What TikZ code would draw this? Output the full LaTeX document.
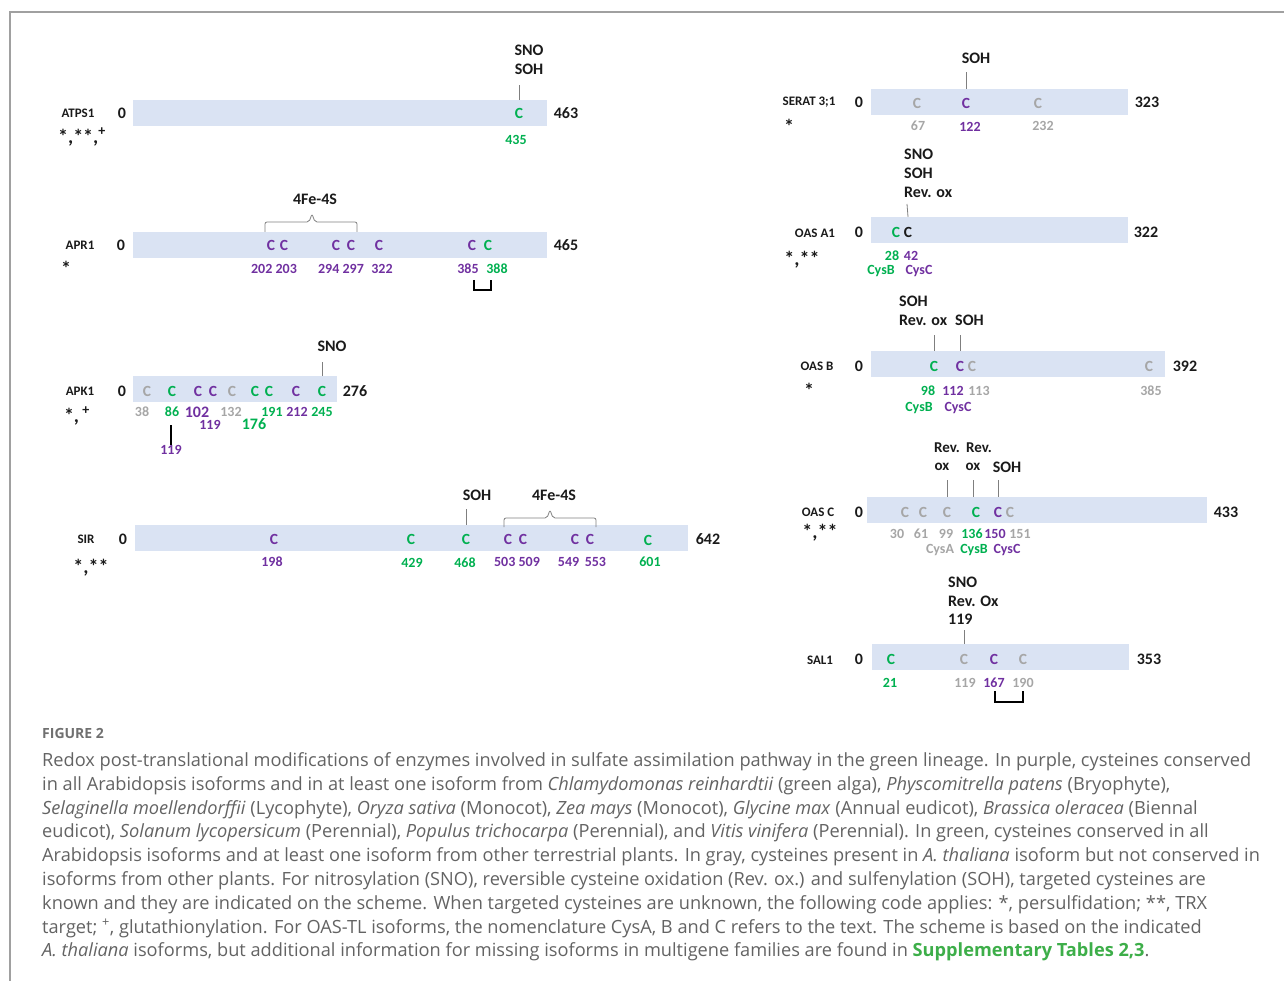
\documentclass[tikz,border=0pt]{standalone}
\usepackage{fontspec}
\setmainfont{Carlito}
\newfontfamily\capfont{Open Sans}
\usetikzlibrary{calc}
\definecolor{barblue}{HTML}{DAE3F3}
\definecolor{cgreen}{HTML}{00B050}
\definecolor{cpurple}{HTML}{7030A0}
\definecolor{cgray}{HTML}{A6A6A6}
\definecolor{capgray}{HTML}{636363}
\definecolor{figgray}{HTML}{707070}
\definecolor{framegray}{HTML}{A0A0A0}
\definecolor{suppgreen}{HTML}{3DAE49}
\definecolor{tickgray}{HTML}{7F7F7F}
\definecolor{txt}{HTML}{1A1A1A}
\begin{document}
\begin{tikzpicture}[x=1pt,y=-1pt,
  bar/.style={fill=barblue,draw=none,inner sep=0pt,minimum height=26pt,anchor=west},
  prot/.style={font=\bfseries\fontsize{13}{15}\selectfont,inner sep=0pt,text=txt},
  endn/.style={font=\bfseries\fontsize{16}{18}\selectfont,inner sep=0pt,text=txt},
  cy/.style={font=\bfseries\fontsize{15.5}{17}\selectfont,inner sep=0pt},
  num/.style={font=\bfseries\fontsize{14}{16}\selectfont,inner sep=0pt},
  ptm/.style={font=\bfseries\fontsize{16}{18}\selectfont,inner sep=0pt,text=txt},
  stars/.style={font=\bfseries\fontsize{20}{22}\selectfont,inner sep=0pt,text=txt},
  tick/.style={draw=tickgray,line width=0.8pt},
  brace/.style={draw=tickgray,line width=0.8pt,rounded corners=2pt},
  bracket/.style={draw=black,line width=2.2pt},
  gr/.style={text=cgreen},
  pu/.style={text=cpurple},
  gy/.style={text=cgray},
  capline/.style={font=\capfont\fontsize{18.2}{22}\selectfont,text=capgray,anchor=base west,inner sep=0pt}
]
\useasboundingbox (0,0) rectangle (1284,981);
% frame
\draw[framegray,line width=1.2pt] (1284,12) -- (10,12) -- (10,981);

% ---------- ATPS1
\node[bar,minimum width=414pt] (b1) at (133,113) {};
\node[prot] (n1) at (78,113) {ATPS1};
\node[endn] (z1) at (122,113) {0};
\node[endn] (e1) at (566,113) {463};
\node[cy,gr] (c1a) at (519,113) {C};
\node[num,gr] (p1a) at (516,140) {435};
\node[ptm] (m1a) at (529,50) {SNO};
\node[ptm] (m1b) at (529,69) {SOH};
\coordinate (t1) at (519,85);
\draw[tick] (c1a |- b1.north) -- (t1);
\node[stars] (s1) at (82,137) {*,**,\textsuperscript{+}};

% ---------- APR1
\node[bar,minimum width=414pt] (b2) at (133,245) {};
\node[prot] (n2) at (80,245) {APR1};
\node[endn] (z2) at (121,245) {0};
\node[endn] (e2) at (566,245) {465};
\node[cy,pu] (c2a) at (271,245) {C};
\node[cy,pu] (c2b) at (284,245) {C};
\node[cy,pu] (c2c) at (336,245) {C};
\node[cy,pu] (c2d) at (351,245) {C};
\node[cy,pu] (c2e) at (379,245) {C};
\node[cy,pu] (c2f) at (472,245) {C};
\node[cy,gr] (c2g) at (488,245) {C};
\node[num,pu] (p2a) at (274,269) {202 203};
\node[num,pu] (p2b) at (341,269) {294 297};
\node[num,pu] (p2c) at (382,269) {322};
\node[num,pu] (p2d) at (468,269) {385};
\node[num,gr] (p2e) at (497,269) {388};
\node[ptm] (fe1) at (315,199) {4Fe-4S};
\draw[brace] (265,232) -- (265,222) -- (309,222) -- (312,214) -- (315,222) -- (357,222) -- (357,232);
\draw[bracket] (474,280) -- (474,290) -- (491,290) -- (491,280);
\node[stars] (s2) at (66,268) {*};

% ---------- APK1
\node[bar,minimum width=204pt] (b3) at (133,389) {};
\node[prot] (n3) at (80,391) {APK1};
\node[endn] (z3) at (122,391) {0};
\node[endn] (e3) at (355,391) {276};
\node[cy,gy] (c3a) at (147,391) {C};
\node[cy,gr] (c3b) at (172,391) {C};
\node[cy,pu] (c3c) at (198,391) {C};
\node[cy,pu] (c3d) at (213,391) {C};
\node[cy,gy] (c3e) at (232,391) {C};
\node[cy,gr] (c3f) at (255,391) {C};
\node[cy,gr] (c3g) at (269,391) {C};
\node[cy,pu] (c3h) at (296,391) {C};
\node[cy,gr] (c3i) at (322,391) {C};
\node[num,gy] (p3a) at (142,412) {38};
\node[num,gr] (p3b) at (172,412) {86};
\node[num,pu,font=\bfseries\fontsize{16}{18}\selectfont] (p3c) at (197,412) {102};
\node[num,gy] (p3d) at (231,412) {132};
\node[num,gr] (p3e) at (272,412) {191};
\node[num,pu] (p3f) at (297,412) {212};
\node[num,gr] (p3g) at (322,412) {245};
\node[num,pu] (p3h) at (210,425) {119};
\node[num,gr,font=\bfseries\fontsize{16}{18}\selectfont] (p3i) at (254,424) {176};
\node[num,pu] (p3j) at (171,450) {119};
\draw[bracket] (p3j |- 0,425) -- (p3j.north);
\node[ptm] (m3a) at (332,346) {SNO};
\coordinate (t3) at (322,362);
\draw[tick] (c3i |- b3.north) -- (t3);
\node[stars] (s3) at (77,416) {*,\,\textsuperscript{+}};

% ---------- SIR
\node[bar,minimum width=553pt] (b4) at (135,538) {};
\node[prot] (n4) at (86,539) {SIR};
\node[endn] (z4) at (123,539) {0};
\node[endn] (e4) at (708,539) {642};
\node[cy,pu] (c4a) at (274,539) {C};
\node[cy,gr] (c4b) at (411,539) {C};
\node[cy,gr] (c4c) at (466,539) {C};
\node[cy,pu] (c4d) at (508,539) {C};
\node[cy,pu] (c4e) at (523,539) {C};
\node[cy,pu] (c4f) at (575,539) {C};
\node[cy,pu] (c4g) at (590,539) {C};
\node[cy,gr] (c4h) at (648,540) {C};
\node[num,pu] (p4a) at (272,562) {198};
\node[num,gr] (p4b) at (412,563) {429};
\node[num,gr] (p4c) at (465,563) {468};
\node[num,pu] (p4d) at (517,562) {503 509};
\node[num,pu] (p4e) at (582,562) {549 \,553};
\node[num,gr] (p4f) at (650,562) {601};
\node[ptm] (m4a) at (477,495) {SOH};
\coordinate (t4) at (466,509);
\draw[tick] (c4c |- b4.north) -- (t4);
\node[ptm] (fe2) at (554,495) {4Fe-4S};
\draw[brace] (504,527) -- (504,518) -- (547,518) -- (550,510) -- (553,518) -- (596,518) -- (596,527);
\node[stars] (s4) at (91,568) {*,**};

% ---------- SERAT 3;1
\node[bar,minimum width=257pt] (b5) at (871,102) {};
\node[prot] (n5) at (809,102) {SERAT 3;1};
\node[endn] (z5) at (859,102) {0};
\node[endn] (e5) at (1147,102) {323};
\node[cy,gy] (c5a) at (917,103) {C};
\node[cy,pu] (c5b) at (966,103) {C};
\node[cy,gy] (c5c) at (1038,103) {C};
\node[num,gy] (p5a) at (918,126) {67};
\node[num,pu] (p5b) at (970,127) {122};
\node[num,gy] (p5c) at (1043,126) {232};
\node[ptm] (m5a) at (976,58) {SOH};
\coordinate (t5) at (966,72);
\draw[tick] (c5b |- b5.north) -- (t5);
\node[stars] (s5) at (789,126) {*};

% ---------- OAS A1
\node[bar,minimum width=257pt] (b6) at (871,230) {};
\node[prot] (n6) at (815,233) {OAS A1};
\node[endn] (z6) at (859,232) {0};
\node[endn] (e6) at (1146,232) {322};
\node[cy,gr] (c6a) at (896,232) {C};
\node[cy,text=txt] (c6b) at (908,232) {C};
\node[num,gr] (p6a) at (892,256) {28};
\node[num,pu] (p6b) at (911,256) {42};
\node[num,gr] (q6a) at (881,271) {CysB};
\node[num,pu] (q6b) at (919,271) {CysC};
\node[ptm,anchor=west] (m6a) at (904,154) {SNO};
\node[ptm,anchor=west] (m6b) at (904,173) {SOH};
\node[ptm,anchor=west] (m6c) at (904,192) {Rev. ox};
\coordinate (t6) at (907,204);
\draw[tick] (c6b |- b6.north) -- (t6);
\node[stars] (s6) at (802,260) {*,**};

% ---------- OAS B
\node[bar,minimum width=294pt] (b7) at (871,364) {};
\node[prot] (n7) at (817,366) {OAS B};
\node[endn] (z7) at (859,366) {0};
\node[endn] (e7) at (1185,366) {392};
\node[cy,gr] (c7a) at (934,366) {C};
\node[cy,pu] (c7b) at (960,366) {C};
\node[cy,gy] (c7c) at (972,366) {C};
\node[cy,gy] (c7d) at (1149,366) {C};
\node[num,gr] (p7a) at (928,391) {98};
\node[num,pu] (p7b) at (953,391) {112};
\node[num,gy] (p7c) at (979,391) {113};
\node[num,gy] (p7d) at (1151,391) {385};
\node[num,gr] (q7a) at (919,408) {CysB};
\node[num,pu] (q7b) at (958,408) {CysC};
\node[ptm,anchor=west] (m7a) at (899,301) {SOH};
\node[ptm,anchor=west] (m7b) at (899,320) {Rev. ox};
\node[ptm,anchor=west] (m7c) at (955,320) {SOH};
\coordinate (t7a) at (934,335);
\coordinate (t7b) at (960,335);
\draw[tick] (c7a |- b7.north) -- (t7a);
\draw[tick] (c7b |- b7.north) -- (t7b);
\node[stars] (s7) at (809,390) {*};

% ---------- OAS C
\node[bar,minimum width=340pt] (b8) at (867,510) {};
\node[prot] (n8) at (818,512) {OAS C};
\node[endn] (z8) at (859,512) {0};
\node[endn] (e8) at (1226,512) {433};
\node[cy,gy] (c8a) at (905,512) {C};
\node[cy,gy] (c8b) at (923,512) {C};
\node[cy,gy] (c8c) at (947,512) {C};
\node[cy,gr] (c8d) at (976,512) {C};
\node[cy,pu] (c8e) at (998,512) {C};
\node[cy,gy] (c8f) at (1010,512) {C};
\node[num,gy] (p8a) at (897,534) {30};
\node[num,gy] (p8b) at (921,534) {61};
\node[num,gy] (p8c) at (946,534) {99};
\node[num,gr] (p8d) at (972,534) {136};
\node[num,pu] (p8e) at (995,534) {150};
\node[num,gy] (p8f) at (1020,534) {151};
\node[num,gy] (q8a) at (940,550) {CysA};
\node[num,gr] (q8b) at (974,550) {CysB};
\node[num,pu] (q8c) at (1007,550) {CysC};
\node[ptm,font=\bfseries\fontsize{15}{17}\selectfont] (m8a) at (947,448) {Rev.};
\node[ptm,font=\bfseries\fontsize{15}{17}\selectfont] (m8b) at (979,448) {Rev.};
\node[ptm,font=\bfseries\fontsize{15}{17}\selectfont] (m8c) at (942,467) {ox};
\node[ptm,font=\bfseries\fontsize{15}{17}\selectfont] (m8d) at (973,467) {ox};
\node[ptm] (m8e) at (1007,467) {SOH};
\coordinate (t8a) at (947,480);
\coordinate (t8b) at (973,480);
\coordinate (t8c) at (998,480);
\draw[tick] (c8c |- b8.north) -- (t8a);
\draw[tick] (t8b |- b8.north) -- (t8b);
\draw[tick] (c8e |- b8.north) -- (t8c);
\node[stars] (s8) at (820,533) {*,**};

% ---------- SAL1
\node[bar,minimum width=257pt] (b9) at (872,657) {};
\node[prot] (n9) at (820,660) {SAL1};
\node[endn] (z9) at (859,659) {0};
\node[endn] (e9) at (1149,659) {353};
\node[cy,gr] (c9a) at (891,659) {C};
\node[cy,gy] (c9b) at (964,659) {C};
\node[cy,pu] (c9c) at (994,659) {C};
\node[cy,gy] (c9d) at (1023,659) {C};
\node[num,gr] (p9a) at (890,683) {21};
\node[num,gy] (p9b) at (965,683) {119};
\node[num,pu] (p9c) at (994,683) {167};
\node[num,gy] (p9d) at (1023,683) {190};
\node[ptm,anchor=west] (m9a) at (948,582) {SNO};
\node[ptm,anchor=west] (m9b) at (948,601) {Rev. Ox};
\node[ptm,anchor=west] (m9c) at (948,619) {119};
\coordinate (t9) at (964,630);
\draw[tick] (c9b |- b9.north) -- (t9);
\draw[bracket] (995,691) -- (995,702) -- (1023,702) -- (1023,691);

% ---------- caption
\node[font=\capfont\bfseries\fontsize{14}{16}\selectfont,text=figgray,anchor=base west,inner sep=0pt] (fig) at (42,738) {FIGURE 2};
\node[capline] (l1) at (42,766) {Redox post-translational modifications of enzymes involved in sulfate assimilation pathway in the green lineage. In purple, cysteines conserved};
\node[capline] (l2) at (42,790) {in all Arabidopsis isoforms and in at least one isoform from \textit{Chlamydomonas reinhardtii} (green alga), \textit{Physcomitrella patens} (Bryophyte),};
\node[capline] (l3) at (42,814) {\textit{Selaginella moellendorffii} (Lycophyte), \textit{Oryza sativa} (Monocot), \textit{Zea mays} (Monocot), \textit{Glycine max} (Annual eudicot), \textit{Brassica oleracea} (Biennal};
\node[capline] (l4) at (42,837) {eudicot), \textit{Solanum lycopersicum} (Perennial), \textit{Populus trichocarpa} (Perennial), and \textit{Vitis vinifera} (Perennial). In green, cysteines conserved in all};
\node[capline] (l5) at (42,861) {Arabidopsis isoforms and at least one isoform from other terrestrial plants. In gray, cysteines present in \textit{A. thaliana} isoform but not conserved in};
\node[capline] (l6) at (42,885) {isoforms from other plants. For nitrosylation (SNO), reversible cysteine oxidation (Rev. ox.) and sulfenylation (SOH), targeted cysteines are};
\node[capline] (l7) at (42,909) {known and they are indicated on the scheme. When targeted cysteines are unknown, the following code applies: *, persulfidation; **, TRX};
\node[capline] (l8) at (42,933) {target; \textsuperscript{+}, glutathionylation. For OAS-TL isoforms, the nomenclature CysA, B and C refers to the text. The scheme is based on the indicated};
\node[capline] (l9) at (42,956) {\textit{A. thaliana} isoforms, but additional information for missing isoforms in multigene families are found in {\color{suppgreen}\bfseries Supplementary Tables 2,3}.};
\end{tikzpicture}
\end{document}
